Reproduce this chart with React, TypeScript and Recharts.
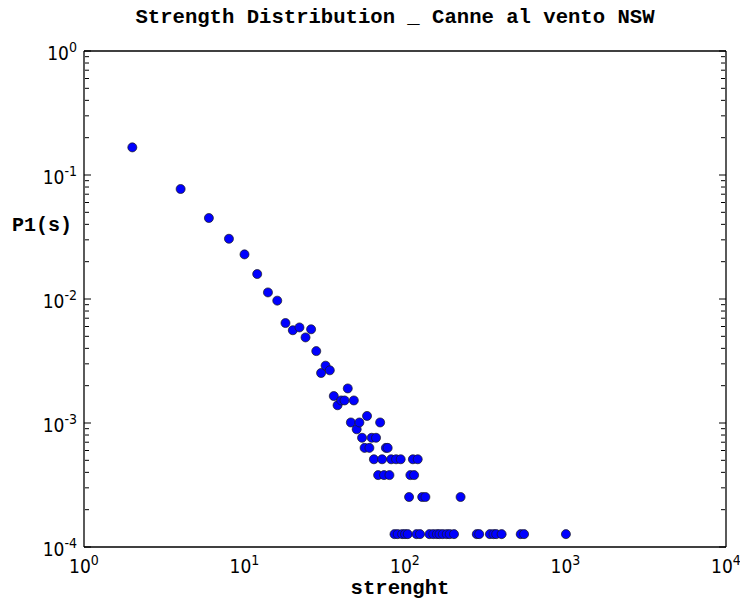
import { ScatterChart, Scatter, XAxis, YAxis } from "recharts";

// strength values (x) and P1(s) (y)
const strength = [
  2, 4, 6, 8, 10, 12, 14, 16, 18, 20, 22, 24, 26, 28, 30, 32, 34, 36, 38, 40,
  42, 44, 46, 48, 50, 52, 54, 56, 58, 60, 62, 64, 66, 68, 70, 72, 74, 76, 78, 80,
  82, 86, 88, 90, 94, 96, 100, 104, 106, 108, 112, 114, 118, 120, 124, 128, 134,
  142, 150, 158, 164, 172, 182, 190, 202, 222, 280, 290, 338, 356, 370, 400, 526, 552, 1006,
];
const p1 = [
  0.167, 0.0771, 0.045, 0.0306, 0.0229, 0.0159, 0.0113, 0.0097, 0.0064, 0.0056,
  0.0059, 0.0049, 0.0057, 0.0038, 0.00253, 0.0029, 0.00266, 0.00165, 0.00139, 0.00152,
  0.00152, 0.0019, 0.00101, 0.00152, 0.00089, 0.00101, 0.00076, 0.00063, 0.00114, 0.00063,
  0.00076, 0.00051, 0.00076, 0.00038, 0.00101, 0.00051, 0.00038, 0.00063, 0.00063, 0.00038,
  0.00051, 0.000127, 0.00051, 0.000127, 0.00051, 0.000127, 0.000127, 0.000127, 0.000253, 0.00038,
  0.00051, 0.00038, 0.000127, 0.00051, 0.000127, 0.000253, 0.000253,
  0.000127, 0.000127, 0.000127, 0.000127, 0.000127, 0.000127, 0.000127, 0.000127, 0.000253,
  0.000127, 0.000127, 0.000127, 0.000127, 0.000127, 0.000127, 0.000127, 0.000127, 0.000127,
];

const xMajor = [1, 10, 100, 1000, 10000];
const xMinor = [
  2, 3, 4, 5, 6, 7, 8, 9, 20, 30, 40, 50, 60, 70, 80, 90,
  200, 300, 400, 500, 600, 700, 800, 900, 2000, 3000, 4000, 5000, 6000, 7000, 8000, 9000,
];
const yMajor = [0.0001, 0.001, 0.01, 0.1, 1];
const yMinor = [
  0.0002, 0.0003, 0.0004, 0.0005, 0.0006, 0.0007, 0.0008, 0.0009,
  0.002, 0.003, 0.004, 0.005, 0.006, 0.007, 0.008, 0.009,
  0.02, 0.03, 0.04, 0.05, 0.06, 0.07, 0.08, 0.09,
  0.2, 0.3, 0.4, 0.5, 0.6, 0.7, 0.8, 0.9,
];

const data = strength.map((s, i) => ({ s, p: p1[i] }));

const tickFont = "'Liberation Sans Narrow', 'DejaVu Sans Condensed', 'DejaVu Sans', sans-serif";
const monoBold = "'Liberation Mono', 'Courier New', monospace";
const XDOM: [number, number] = [1, 10000];
const YDOM: [number, number] = [0.0001, 1];

const XTick = ({ x, y, payload }: any) => {
  const e = Math.round(Math.log10(payload.value));
  return (
    <text x={x} y={y + 18} textAnchor="middle" fontFamily={tickFont} fontSize={19} fill="#000">
      10<tspan dy={-8} fontSize={14}>{e}</tspan>
    </text>
  );
};

const YTick = ({ x, y, payload }: any) => {
  const e = Math.round(Math.log10(payload.value));
  return (
    <text x={x} y={y + 9} textAnchor="end" fontFamily={tickFont} fontSize={19} fill="#000">
      10<tspan dy={-8} fontSize={14}>{e}</tspan>
    </text>
  );
};

const noLabel = () => <g />;
const tl = { stroke: "#000", strokeWidth: 1 };

export default function App() {
  return (
    <div style={{ position: "absolute", left: 0, top: 0, width: 740, height: 602, background: "#fff" }}>
      <div style={{ position: "absolute", left: 84, width: 622, top: 6, textAlign: "center",
        fontFamily: monoBold, fontWeight: "bold", fontSize: 20.6 }}>
        Strength Distribution _ Canne al vento NSW
      </div>
      <div style={{ position: "absolute", left: 12, top: 214, fontFamily: monoBold, fontWeight: "bold", fontSize: 20 }}>
        P1(s)
      </div>
      <div style={{ position: "absolute", left: 84, width: 632, top: 577, textAlign: "center",
        fontFamily: monoBold, fontWeight: "bold", fontSize: 20.6 }}>
        strenght
      </div>
      <ScatterChart width={740} height={602} margin={{ top: 51, right: 14, bottom: 15, left: 24 }}>
        {/* inward tick marks, all four sides (thin mirror axes) */}
        <XAxis xAxisId="bM" type="number" scale="log" domain={XDOM} ticks={xMajor} mirror allowDataOverflow height={1}
          axisLine={false} tickSize={7} tick={noLabel} tickLine={tl} interval={0} />
        <XAxis xAxisId="bm" type="number" scale="log" domain={XDOM} ticks={xMinor} mirror allowDataOverflow height={1}
          axisLine={false} tickSize={4} tick={noLabel} tickLine={tl} interval={0} />
        <XAxis xAxisId="tM" orientation="top" type="number" scale="log" domain={XDOM} ticks={xMajor} mirror allowDataOverflow height={1}
          axisLine={{ stroke: "#000", strokeWidth: 1.3 }} tickSize={7} tick={noLabel} tickLine={tl} interval={0} />
        <XAxis xAxisId="tm" orientation="top" type="number" scale="log" domain={XDOM} ticks={xMinor} mirror allowDataOverflow height={1}
          axisLine={false} tickSize={4} tick={noLabel} tickLine={tl} interval={0} />
        <YAxis yAxisId="lM" type="number" scale="log" domain={YDOM} ticks={yMajor} mirror allowDataOverflow width={1}
          axisLine={false} tickSize={7} tick={noLabel} tickLine={tl} interval={0} />
        <YAxis yAxisId="lm" type="number" scale="log" domain={YDOM} ticks={yMinor} mirror allowDataOverflow width={1}
          axisLine={false} tickSize={4} tick={noLabel} tickLine={tl} interval={0} />
        <YAxis yAxisId="rM" orientation="right" type="number" scale="log" domain={YDOM} ticks={yMajor} mirror allowDataOverflow width={1}
          axisLine={{ stroke: "#000", strokeWidth: 1.3 }} tickSize={7} tick={noLabel} tickLine={tl} interval={0} />
        <YAxis yAxisId="rm" orientation="right" type="number" scale="log" domain={YDOM} ticks={yMinor} mirror allowDataOverflow width={1}
          axisLine={false} tickSize={4} tick={noLabel} tickLine={tl} interval={0} />
        {/* label axes */}
        <XAxis xAxisId="b" dataKey="s" type="number" scale="log" domain={XDOM} ticks={xMajor}
          allowDataOverflow height={40} tickLine={false} tickSize={0} tickMargin={8}
          axisLine={{ stroke: "#000", strokeWidth: 1.3 }} tick={<XTick />} interval={0} />
        <YAxis yAxisId="l" dataKey="p" type="number" scale="log" domain={YDOM} ticks={yMajor}
          allowDataOverflow width={60} tickLine={false} tickSize={0} tickMargin={7}
          axisLine={{ stroke: "#000", strokeWidth: 1.3 }} tick={<YTick />} interval={0} />
        <Scatter data={data} xAxisId="b" yAxisId="l" fill="#0000ff" stroke="#1a1a1a" strokeWidth={0.7}
          isAnimationActive={false} />
      </ScatterChart>
    </div>
  );
}
